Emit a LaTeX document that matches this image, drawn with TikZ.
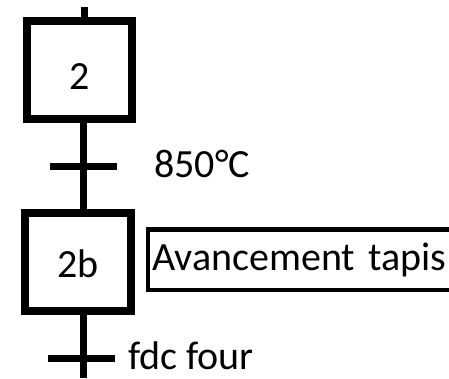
\documentclass[tikz,border=0pt]{standalone}
\usepackage{fontspec}
\setmainfont{Carlito}
\begin{document}
\begin{tikzpicture}[x=1pt,y=-1pt,
  stepbox/.style={draw,line width=8pt,inner sep=0pt},
  actbox/.style={draw,line width=4.5pt,inner ysep=0pt,inner xsep=4.5pt,anchor=west,minimum height=60.5pt,text width=300pt,align=left},
  tbar/.style={fill,minimum width=67pt,minimum height=7pt,inner sep=0pt},
  link/.style={line width=7pt},
  lbl/.style={inner sep=0pt,anchor=base west}
]
\useasboundingbox (0,0) rectangle (449,378);
\fontsize{40}{48}\selectfont
\node[stepbox,minimum width=105pt,minimum height=97.5pt] (s2) at (79.5,70) {};
\node[inner sep=0pt,anchor=base] at (79.5,89) {2};
\node[stepbox,minimum width=106pt,minimum height=98pt] (s2b) at (78,262) {};
\node[inner sep=0pt,anchor=base] at (78,277) {2b};
\node[actbox] (act) at (145.5,259.75) {Avancement tapis};
\node[tbar] (t1) at (83.5,166) {};
\node[tbar] (t2) at (81.5,358) {};
\coordinate (top) at (84.5,7);
\coordinate (bot) at (83.5,378);
\draw[link] (top) -- (top |- s2.north);
\draw[link] (t1 |- s2.south) -- (t1 |- s2b.north);
\draw[link] (bot |- s2b.south) -- (bot);
\node[lbl] (c1) at (154,177) {850°C};
\node[lbl] (c2) at (128,369) {fdc four};
\end{tikzpicture}
\end{document}
